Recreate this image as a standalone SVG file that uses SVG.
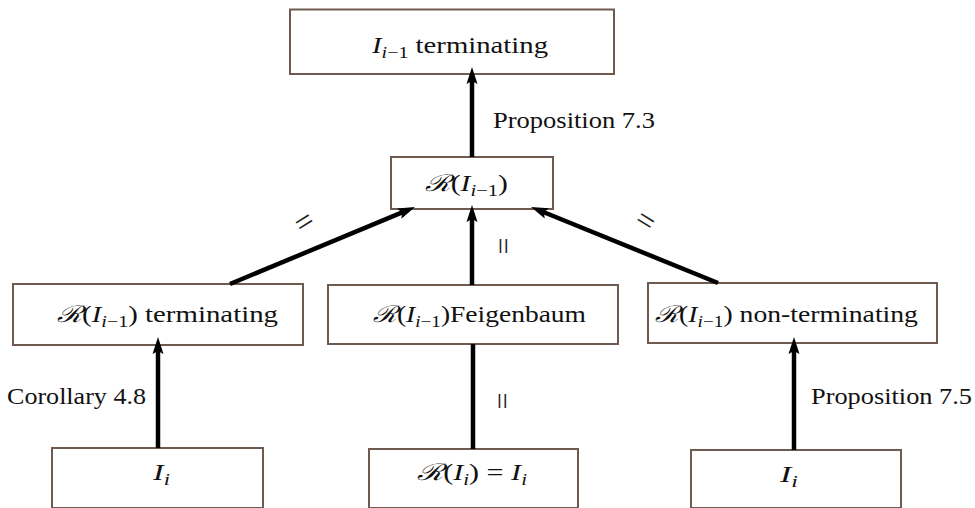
<svg xmlns="http://www.w3.org/2000/svg" width="975" height="508" viewBox="0 0 975 508">
<style>
.box{fill:#fff;stroke:#6e5a4e;stroke-width:2}
.c{fill:none;stroke:#000;stroke-width:4.5}
</style>
<defs>
<marker id="ah" viewBox="-18 -6 19 12" refX="-8" refY="0" markerWidth="19" markerHeight="12" markerUnits="userSpaceOnUse" orient="auto">
<path d="M0,0 L-17,-5.5 L-14,0 L-17,5.5 Z" fill="#000"/>
</marker>
</defs>
<rect width="975" height="508" fill="#fff"/>
<g font-family="Liberation Serif, Times New Roman, serif" font-size="23" fill="#111">
<g id="n-top"><rect class="box" x="290" y="9.5" width="324" height="64.5"/>
<text x="372" y="53" textLength="176" lengthAdjust="spacingAndGlyphs"><tspan font-style="italic">I</tspan><tspan font-size="16" dy="5"><tspan font-style="italic">i</tspan>−1</tspan><tspan dy="-5"> terminating</tspan></text></g>
<g id="n-mid"><rect class="box" x="391" y="157" width="162" height="52"/>
<text x="425" y="191" textLength="83" lengthAdjust="spacingAndGlyphs"><tspan font-style="italic">ℛ</tspan>(<tspan font-style="italic">I</tspan><tspan font-size="16" dy="5"><tspan font-style="italic">i</tspan>−1</tspan><tspan dy="-5">)</tspan></text></g>
<g id="n-left"><rect class="box" x="13" y="284" width="290" height="61"/>
<text x="57" y="322" textLength="221" lengthAdjust="spacingAndGlyphs"><tspan font-style="italic">ℛ</tspan>(<tspan font-style="italic">I</tspan><tspan font-size="16" dy="5"><tspan font-style="italic">i</tspan>−1</tspan><tspan dy="-5">)  terminating</tspan></text></g>
<g id="n-center"><rect class="box" x="328" y="285" width="290" height="59"/>
<text x="373" y="322" textLength="213" lengthAdjust="spacingAndGlyphs"><tspan font-style="italic">ℛ</tspan>(<tspan font-style="italic">I</tspan><tspan font-size="16" dy="5"><tspan font-style="italic">i</tspan>−1</tspan><tspan dy="-5">)Feigenbaum</tspan></text></g>
<g id="n-right"><rect class="box" x="648" y="283" width="289" height="60"/>
<text x="655" y="322" textLength="263" lengthAdjust="spacingAndGlyphs"><tspan font-style="italic">ℛ</tspan>(<tspan font-style="italic">I</tspan><tspan font-size="16" dy="5"><tspan font-style="italic">i</tspan>−1</tspan><tspan dy="-5">) non-terminating</tspan></text></g>
<g id="n-bl"><rect class="box" x="52" y="448" width="211" height="60"/>
<text x="153" y="480" textLength="17" lengthAdjust="spacingAndGlyphs"><tspan font-style="italic">I</tspan><tspan font-size="16" font-style="italic" dy="5">i</tspan></text></g>
<g id="n-bc"><rect class="box" x="369" y="449" width="209" height="59"/>
<text x="417" y="480" textLength="110" lengthAdjust="spacingAndGlyphs"><tspan font-style="italic">ℛ</tspan>(<tspan font-style="italic">I</tspan><tspan font-size="16" font-style="italic" dy="5">i</tspan><tspan dy="-5">) = </tspan><tspan font-style="italic">I</tspan><tspan font-size="16" font-style="italic" dy="5">i</tspan></text></g>
<g id="n-br"><rect class="box" x="691" y="450" width="210" height="58"/>
<text x="780" y="482" textLength="18" lengthAdjust="spacingAndGlyphs"><tspan font-style="italic">I</tspan><tspan font-size="16" font-style="italic" dy="5">i</tspan></text></g>
<g id="connectors">
<path class="c" d="M472,157 L472,75" marker-end="url(#ah)"/>
<path class="c" d="M472,285 L472,213" marker-end="url(#ah)"/>
<path class="c" d="M230,284 L407.6,210.1" marker-end="url(#ah)"/>
<path class="c" d="M718,283 L538.4,210" marker-end="url(#ah)"/>
<path class="c" d="M158,448 L158,345" marker-end="url(#ah)"/>
<path class="c" d="M473,449 L473,344"/>
<path class="c" d="M794,450 L794,345" marker-end="url(#ah)"/>
</g>
<g id="labels">
<text x="493" y="128" textLength="162" lengthAdjust="spacingAndGlyphs">Proposition 7.3</text>
<text x="7" y="404" textLength="139" lengthAdjust="spacingAndGlyphs">Corollary 4.8</text>
<text x="811" y="404" textLength="161" lengthAdjust="spacingAndGlyphs">Proposition 7.5</text>
<text font-size="32" fill="#222" transform="translate(305,223) rotate(-32)" x="0" y="9" text-anchor="middle">=</text>
<text font-size="32" fill="#222" transform="translate(645,222) rotate(32)" x="0" y="9" text-anchor="middle">=</text>
<text font-size="30" fill="#222" transform="translate(501,246) rotate(90)" x="0" y="8.5" text-anchor="middle">=</text>
<text font-size="30" fill="#222" transform="translate(500,401) rotate(90)" x="0" y="8.5" text-anchor="middle">=</text>
</g>
</g>
</svg>
